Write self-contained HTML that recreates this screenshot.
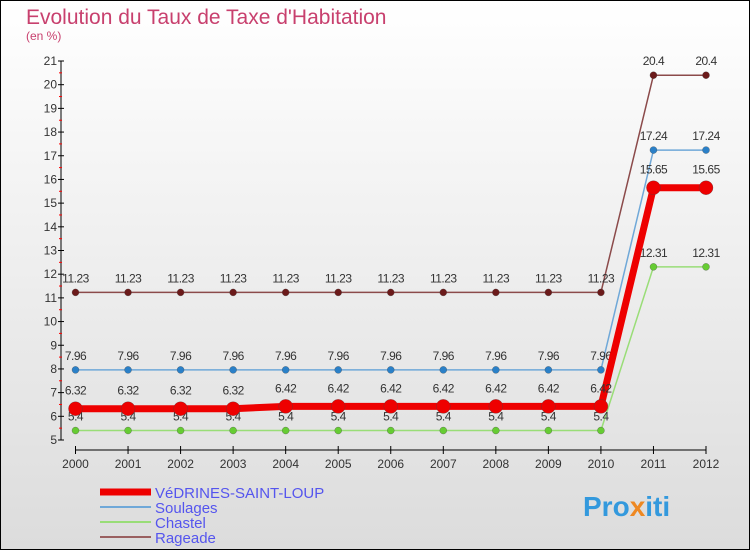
<!DOCTYPE html>
<html><head><meta charset="utf-8"><style>
html,body{margin:0;padding:0}
body{width:750px;height:550px;overflow:hidden;font-family:"Liberation Sans",sans-serif}
</style></head><body>
<svg width="750" height="550" xmlns="http://www.w3.org/2000/svg">
<defs><linearGradient id="bg" x1="0" y1="0" x2="0" y2="1"><stop offset="0" stop-color="#ffffff"/><stop offset="1" stop-color="#dcdcdc"/></linearGradient></defs>
<rect x="0.5" y="0.5" width="749" height="549" fill="url(#bg)" stroke="#000"/>
<text x="26" y="24" font-size="21" fill="#c8406e">Evolution du Taux de Taxe d'Habitation</text>
<text x="26" y="40" font-size="12" fill="#c8406e">(en %)</text>
<g id="axes"></g><g id="series"></g><g id="legend"></g>
<text x="583" y="516" font-size="28" font-weight="bold" fill="#3399dd">Pro<tspan fill="#ee8822">x</tspan>iti</text>
</svg>
<script>
const years=[2000,2001,2002,2003,2004,2005,2006,2007,2008,2009,2010,2011,2012];
const yTicks=[5,6,7,8,9,10,11,12,13,14,15,16,17,18,19,20,21];
const vedrines=[6.32,6.32,6.32,6.32,6.42,6.42,6.42,6.42,6.42,6.42,6.42,15.65,15.65];
const soulages=[7.96,7.96,7.96,7.96,7.96,7.96,7.96,7.96,7.96,7.96,7.96,17.24,17.24];
const chastel=[5.4,5.4,5.4,5.4,5.4,5.4,5.4,5.4,5.4,5.4,5.4,12.31,12.31];
const rageade=[11.23,11.23,11.23,11.23,11.23,11.23,11.23,11.23,11.23,11.23,11.23,20.4,20.4];
const NS="http://www.w3.org/2000/svg";
const X=i=>75.5+i*(706-75.5)/(years.length-1);
const Y=v=>440-(v-5)*(440-61)/16;
function mk(t,a,p){const e=document.createElementNS(NS,t);for(const k in a)e.setAttribute(k,a[k]);p.appendChild(e);return e;}
const ax=document.getElementById('axes');
mk('line',{x1:61,y1:Y(21),x2:61,y2:Y(5),stroke:'#000'},ax);
mk('line',{x1:75.5,y1:450,x2:706,y2:450,stroke:'#000'},ax);
yTicks.forEach(v=>{
 mk('line',{x1:58,y1:Y(v),x2:64,y2:Y(v),stroke:'#000'},ax);
 if(v<21)mk('line',{x1:59,y1:Y(v+0.5),x2:62,y2:Y(v+0.5),stroke:'#f00'},ax);
 const t=mk('text',{x:57,y:Y(v)+4,'font-size':12,'text-anchor':'end',fill:'#333'},ax);t.textContent=v;
 
 
});
years.forEach((yr,i)=>{
 mk('line',{x1:X(i),y1:446,x2:X(i),y2:454,stroke:'#000'},ax);
 const t=mk('text',{x:X(i),y:468,'font-size':12,'text-anchor':'middle',fill:'#333'},ax);t.textContent=yr;
 
 
});
const sg=document.getElementById('series');
function draw(vals,color,dot,w,r,name,lblOff){
 const g=mk('g',{},sg);
 
 
 mk('polyline',{points:vals.map((v,i)=>X(i)+','+Y(v)).join(' '),fill:'none',stroke:color,'stroke-width':w},g);
 vals.forEach((v,i)=>{
  const c=mk('circle',{cx:X(i),cy:Y(v),r:r,fill:dot,stroke:'#444','stroke-width':0.3},g);
  
  
  const t=mk('text',{x:X(i),y:Y(v)+lblOff,'font-size':12,'text-anchor':'middle',fill:'#333','letter-spacing':'-0.5'},g);t.textContent=v;
  
  
 });
}
draw(rageade,'#8b4a4a','#6b1a1a',1.5,3.5,'rageade',-10);
draw(soulages,'#6fa8d8','#2a80c8',1.5,3.5,'soulages',-10);
draw(chastel,'#99dd77','#66cc33',1.5,3.5,'chastel',-10);
draw(vedrines,'#ee0000','#ee0000',7,7,'vedrines',-14);
const lg=document.getElementById('legend');
const items=[['VéDRINES-SAINT-LOUP','#ee0000',7],['Soulages','#6fa8d8',2],['Chastel','#99dd77',2],['Rageade','#9a6060',2]];
items.forEach((it,k)=>{
 const y=492+k*15;
 const g=mk('g',{},lg);
 
 
 mk('line',{x1:100,y1:y,x2:151,y2:y,stroke:it[1],'stroke-width':it[2]},g);
 const t=mk('text',{x:155,y:y+6,'font-size':15,fill:'#5555ee'},g);t.textContent=it[0];
});
</script>
</body></html>
